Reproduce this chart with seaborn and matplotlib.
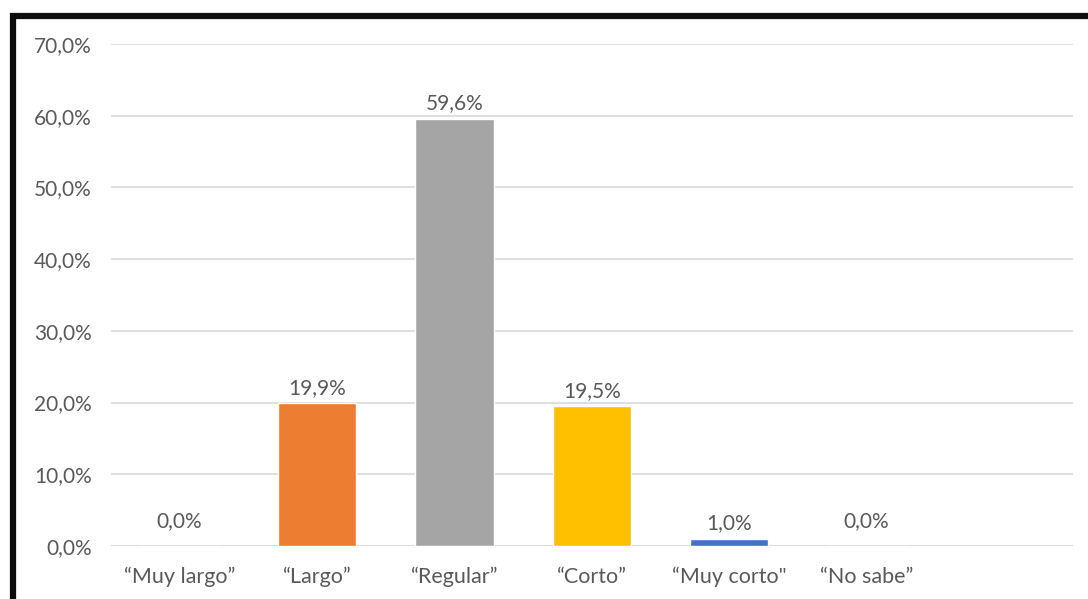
import matplotlib
matplotlib.use("Agg")
import matplotlib.pyplot as plt
from matplotlib.lines import Line2D
from matplotlib.ticker import FuncFormatter
import pandas as pd
import seaborn as sns

categories = ["“Muy largo”", "“Largo”", "“Regular”", "“Corto”", "“Muy corto\"", "“No sabe”"]
values = [0.0, 19.9, 59.6, 19.5, 1.0, 0.0]
colors = ["#5B9BD5", "#ED7D31", "#A5A5A5", "#FFC000", "#4472C4", "#70AD47"]
y_ticks = [0, 10, 20, 30, 40, 50, 60, 70]

sns.set_theme(style="white")
plt.rcParams["font.family"] = ["Lato", "DejaVu Sans"]

text_color = "#595959"
df = pd.DataFrame({"cat": categories, "pct": values})
order = categories + [" "]

fig = plt.figure(figsize=(10.88, 5.99), dpi=100)
ax = fig.add_axes([0.102, 0.0885, 0.884, 0.838])

sns.barplot(data=df, x="cat", y="pct", hue="cat", order=order, hue_order=categories,
            palette=dict(zip(categories, colors)), width=0.57, dodge=False,
            legend=False, ax=ax, saturation=1)

ax.set_ylim(0, 70)
ax.set_yticks(y_ticks)
ax.yaxis.set_major_formatter(FuncFormatter(lambda v, _: f"{v:.1f}%".replace(".", ",")))
ax.set_xlim(-0.5, len(order) - 0.5)
ax.grid(axis="y", color="#D9D9D9", linewidth=1.2)
ax.set_axisbelow(True)
for s in ax.spines.values():
    s.set_visible(False)
ax.axhline(0, color="#D9D9D9", linewidth=1.2, zorder=0.5)
ax.set_xlabel("")
ax.set_ylabel("")
ax.tick_params(axis="y", length=0, pad=14, labelsize=15, labelcolor=text_color)
ax.tick_params(axis="x", length=0, pad=15, labelsize=15.5, labelcolor=text_color)

for cont, v in zip(ax.containers, values):
    lab = f"{v:.1f}%".replace(".", ",")
    ax.bar_label(cont, labels=[lab], padding=11 if v == 0 else 4,
                 fontsize=15, color=text_color)

# frame lines along the top and left edges
fig.add_artist(Line2D([10 / 1088, 1.0], [1 - 16 / 599, 1 - 16 / 599],
                      transform=fig.transFigure, color="#0D0D0D", linewidth=4.5,
                      solid_capstyle="butt"))
fig.add_artist(Line2D([13 / 1088, 13 / 1088], [0.0, 1 - 13 / 599],
                      transform=fig.transFigure, color="#0D0D0D", linewidth=4.5,
                      solid_capstyle="butt"))

fig.savefig("out.png", dpi=100, facecolor="white")
